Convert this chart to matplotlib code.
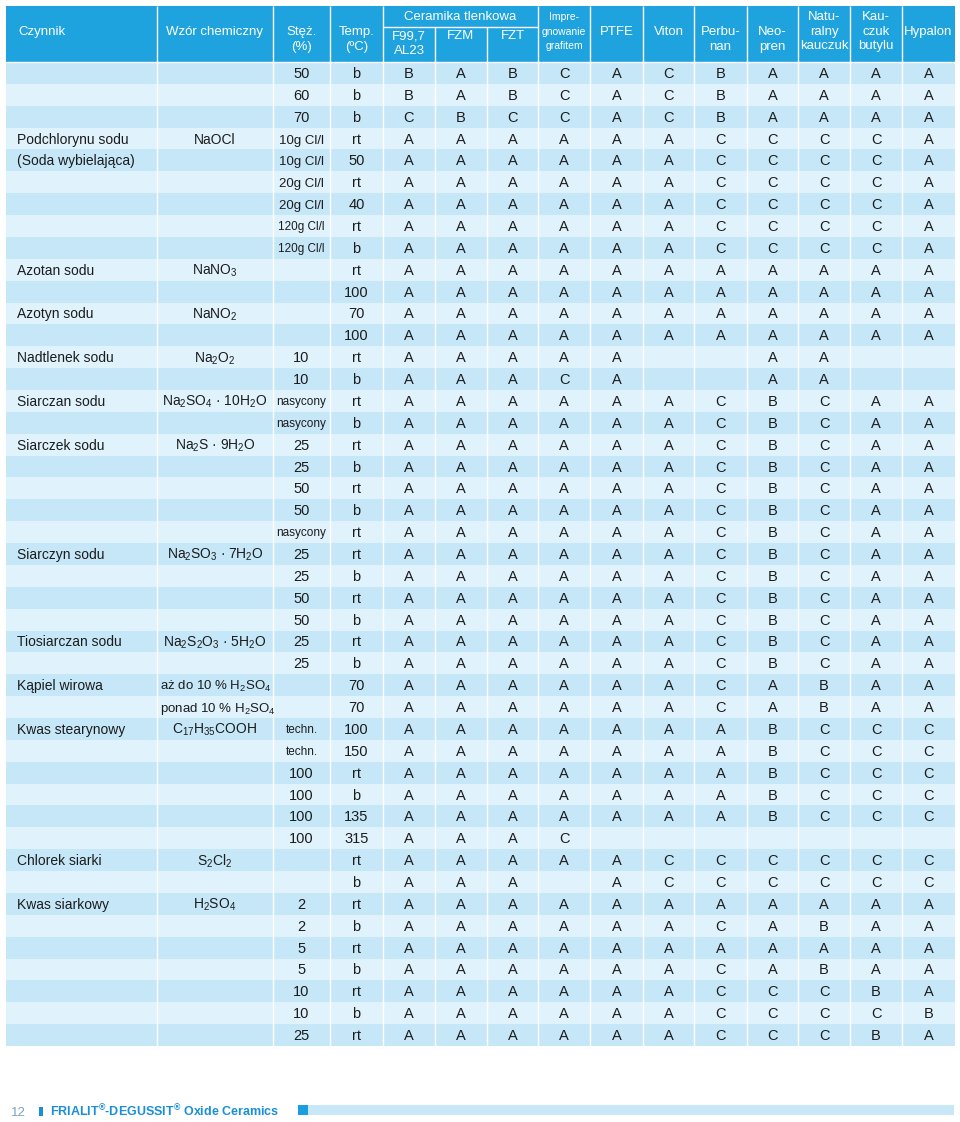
import matplotlib.pyplot as plt
from matplotlib.patches import Rectangle

plt.rcParams['font.family'] = ['Liberation Sans', 'DejaVu Sans']
plt.rcParams['mathtext.fontset'] = 'custom'
plt.rcParams['mathtext.rm'] = 'Liberation Sans'
plt.rcParams['mathtext.default'] = 'regular'

# --- dane tabeli ---
headers = ['Czynnik', 'Wzór chemiczny', 'Stęż.\n(%)', 'Temp.\n(ºC)', 'F99,7\nAL23', 'FZM', 'FZT',
           'Impre-\ngnowanie\ngrafitem', 'PTFE', 'Viton', 'Perbu-\nnan', 'Neo-\npren',
           'Natu-\nralny\nkauczuk', 'Kau-\nczuk\nbutylu', 'Hypalon']
group_header = 'Ceramika tlenkowa'

czynnik = ['', '', '', 'Podchlorynu sodu', '(Soda wybielająca)', '', '', '', '',
           'Azotan sodu', '', 'Azotyn sodu', '', 'Nadtlenek sodu', '',
           'Siarczan sodu', '', 'Siarczek sodu', '', '', '', '',
           'Siarczyn sodu', '', '', '', 'Tiosiarczan sodu', '',
           'Kąpiel wirowa', '', 'Kwas stearynowy', '', '', '', '', '',
           'Chlorek siarki', '', 'Kwas siarkowy', '', '', '', '', '', '']

wzor = ['', '', '', 'NaOCl', '', '', '', '', '',
        'NaNO$_3$', '', 'NaNO$_2$', '', 'Na$_2$O$_2$', '',
        'Na$_2$SO$_4$ · 10H$_2$O', '', 'Na$_2$S · 9H$_2$O', '', '', '', '',
        'Na$_2$SO$_3$ · 7H$_2$O', '', '', '', 'Na$_2$S$_2$O$_3$ · 5H$_2$O', '',
        'aż do 10 % H$_2$SO$_4$', 'ponad 10 % H$_2$SO$_4$', 'C$_{17}$H$_{35}$COOH', '', '', '', '', '',
        'S$_2$Cl$_2$', '', 'H$_2$SO$_4$', '', '', '', '', '', '']

stez = ['50', '60', '70', '10g Cl/l', '10g Cl/l', '20g Cl/l', '20g Cl/l', '120g Cl/l', '120g Cl/l',
        '', '', '', '', '10', '10', 'nasycony', 'nasycony', '25', '25', '50', '50', 'nasycony',
        '25', '25', '50', '50', '25', '25', '', '', 'techn.', 'techn.', '100', '100', '100', '100',
        '', '', '2', '2', '5', '5', '10', '10', '25']

temp = ['b', 'b', 'b', 'rt', '50', 'rt', '40', 'rt', 'b', 'rt', '100', '70', '100', 'rt', 'b',
        'rt', 'b', 'rt', 'b', 'rt', 'b', 'rt', 'rt', 'b', 'rt', 'b', 'rt', 'b', '70', '70',
        '100', '150', 'rt', 'b', '135', '315', 'rt', 'b', 'rt', 'b', 'rt', 'b', 'rt', 'b', 'rt']

# oceny: F99,7 FZM FZT Impreg PTFE Viton Perbunan Neopren Nat.kauczuk Kauczuk butylu Hypalon
oceny = ['BABCACBAAAA', 'BABCACBAAAA', 'CBCCACBAAAA',
         'AAAAAACCCCA', 'AAAAAACCCCA', 'AAAAAACCCCA', 'AAAAAACCCCA', 'AAAAAACCCCA', 'AAAAAACCCCA',
         'AAAAAAAAAAA', 'AAAAAAAAAAA', 'AAAAAAAAAAA', 'AAAAAAAAAAA',
         'AAAAA  AA  ', 'AAACA  AA  ',
         'AAAAAACBCAA', 'AAAAAACBCAA', 'AAAAAACBCAA', 'AAAAAACBCAA', 'AAAAAACBCAA',
         'AAAAAACBCAA', 'AAAAAACBCAA', 'AAAAAACBCAA', 'AAAAAACBCAA', 'AAAAAACBCAA',
         'AAAAAACBCAA', 'AAAAAACBCAA', 'AAAAAACBCAA',
         'AAAAAACABAA', 'AAAAAACABAA',
         'AAAAAAABCCC', 'AAAAAAABCCC', 'AAAAAAABCCC', 'AAAAAAABCCC', 'AAAAAAABCCC',
         'AAAC       ',
         'AAAAACCCCCC', 'AAA ACCCCCC',
         'AAAAAAAAAAA', 'AAAAAACABAA', 'AAAAAAAAAAA', 'AAAAAACABAA',
         'AAAAAACCCBA', 'AAAAAACCCCB', 'AAAAAACCCBA']

# --- uklad ---
edges = [6, 157, 273, 330, 383, 435, 487, 538, 590, 643, 694, 747, 798, 850, 902, 955]
centers = [(a + b) / 2 for a, b in zip(edges[:-1], edges[1:])]
head_top, head_bot, sub_line = 6, 62, 27
body_bot = 1046
n = len(oceny)
row_h = (body_bot - head_bot) / n

blue = '#1ea3de'
dark_row = '#c6e7f8'
light_row = '#e0f2fc'
txt = '#1c1c1c'

fig = plt.figure(figsize=(9.6, 11.22), dpi=100)
ax = fig.add_axes([0, 0, 1, 1])
ax.set_xlim(0, 960)
ax.set_ylim(1122, 0)
ax.axis('off')

# naglowek
ax.add_patch(Rectangle((edges[0], head_top), edges[-1] - edges[0], head_bot - head_top, color=blue, lw=0))
for i, x in enumerate(edges[1:-1], start=1):
    y0 = sub_line if i in (5, 6) else head_top
    ax.vlines(x, y0, head_bot, color='white', lw=1.0)
ax.hlines(sub_line, edges[4], edges[7], color='white', lw=1.0)
ax.hlines(head_bot, edges[0], edges[-1], color='white', lw=1.0)
ax.text((edges[4] + edges[7]) / 2, 16.5, group_header, ha='center', va='center', color='white', fontsize=9.5)

line_y = {1: [32], 2: [32, 47], 3: [17, 32, 46]}
for i, h in enumerate(headers):
    lines = h.split('\n')
    ys = line_y[len(lines)]
    if i in (4, 5, 6):
        ys = [36, 51][:len(lines)]
    fs = 7.5 if i == 7 else 9.5
    for s, y in zip(lines, ys):
        if i == 0:
            ax.text(18, y, s, ha='left', va='center', color='white', fontsize=fs)
        else:
            ax.text(centers[i], y, s, ha='center', va='center', color='white', fontsize=fs)

# wiersze
row_c = [head_bot + row_h * (k + 0.5) for k in range(n)]
ax.barh(row_c, edges[-1] - edges[0], left=edges[0], height=row_h,
        color=[dark_row if k % 2 == 0 else light_row for k in range(n)], lw=0)
ax.vlines(edges[1:-1], head_bot, body_bot, color='white', lw=1.0)

fs = 10
fs_val = 10.5
for k in range(n):
    yb = row_c[k] + 5
    if czynnik[k]:
        ax.text(17, yb, czynnik[k], ha='left', va='baseline', color=txt, fontsize=fs)
    if wzor[k]:
        if wzor[k][0].islower():
            ax.text(160, yb, wzor[k], ha='left', va='baseline', color=txt, fontsize=9.5)
        else:
            ax.text(centers[1], yb, wzor[k], ha='center', va='baseline', color=txt, fontsize=fs)
    if stez[k]:
        small = stez[k] in ('nasycony', 'techn.') or len(stez[k]) > 8
        if small:
            ax.text(centers[2], yb - 1, stez[k], ha='center', va='baseline', color=txt, fontsize=8.5)
        elif 'Cl' in stez[k]:
            ax.text(centers[2], yb, stez[k], ha='center', va='baseline', color=txt, fontsize=9.5)
        else:
            ax.text(centers[2], yb, stez[k], ha='center', va='baseline', color=txt, fontsize=fs_val)
    if temp[k]:
        ax.text(centers[3], yb, temp[k], ha='center', va='baseline', color=txt, fontsize=fs_val)
    for j, c in enumerate(oceny[k]):
        if c.strip():
            ax.text(centers[4 + j], yb, c, ha='center', va='baseline', color=txt, fontsize=fs_val)

# stopka
ax.text(11, 1116, '12', ha='left', va='baseline', color='#7aa3c6', fontsize=9.5)
ax.add_patch(Rectangle((39, 1107), 4, 9, color='#1a8fd8', lw=0))
ax.text(50, 1116, 'FRIALIT$^{®}$-DEGUSSIT$^{®}$ Oxide Ceramics', ha='left', va='baseline',
        color='#1a8fd8', fontsize=9, fontweight='bold')
ax.add_patch(Rectangle((298, 1105), 10, 10, color='#1a9ee0', lw=0))
ax.add_patch(Rectangle((308, 1105), 646, 10, color='#c8e8f8', lw=0))

fig.savefig('out.png', dpi=100)
